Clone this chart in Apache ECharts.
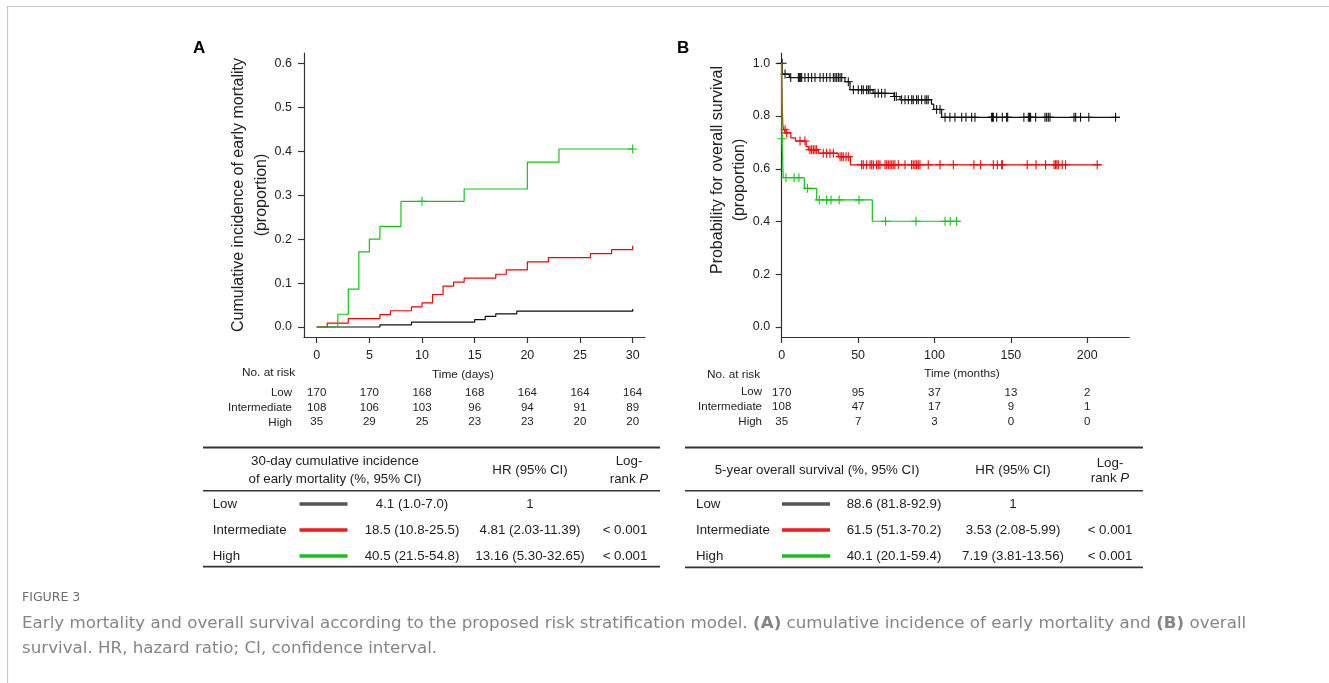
<!DOCTYPE html>
<html>
<head>
<meta charset="utf-8">
<script src="https://cdn.jsdelivr.net/npm/echarts@6/dist/echarts.min.js"></script>
<style>
  html, body { margin: 0; padding: 0; background: #fff; }
  #chart { width: 1329px; height: 683px; }
</style>
</head>
<body>
<div id="chart"></div>
<script>
// ---- panel A: cumulative incidence of early mortality (days) ----
const dayTicks = [0, 5, 10, 15, 20, 25, 30]
const incTicks = [0, 0.1, 0.2, 0.3, 0.4, 0.5, 0.6]
// [day, cumulative incidence] at each step
const lowA = [[0, 0], [6, 0.005], [9, 0.011], [15, 0.017], [16, 0.024], [17, 0.030], [19, 0.036], [30, 0.041]]
const intA = [[0, 0], [1, 0.009], [3, 0.019], [6, 0.028], [7, 0.037], [9, 0.046], [10, 0.055], [11, 0.074],
  [12, 0.093], [13, 0.102], [14, 0.111], [17, 0.120], [18, 0.130], [20, 0.148], [22, 0.158], [26, 0.167],
  [28, 0.176], [30, 0.185]]
const highA = [[0, 0], [2, 0.029], [3, 0.086], [4, 0.171], [5, 0.200], [6, 0.229], [8, 0.286], [14, 0.314],
  [20, 0.375], [23, 0.405], [30, 0.405]]
const highCensorA = [10, 30]
const riskLowA = [170, 170, 168, 168, 164, 164, 164]
const riskIntA = [108, 106, 103, 96, 94, 91, 89]
const riskHighA = [35, 29, 25, 23, 23, 20, 20]

// ---- panel B: overall survival (months) ----
const monthTicks = [0, 50, 100, 150, 200]
const survTicks = [0, 0.2, 0.4, 0.6, 0.8, 1.0]
const lowB = [[0, 1], [0.6, 0.959], [5, 0.946], [41.4, 0.93], [44.7, 0.90], [59.8, 0.886], [73.5, 0.874],
  [77.4, 0.862], [98, 0.845], [99.5, 0.825], [104.7, 0.795], [221.4, 0.795]]
const intB = [[0, 1], [0.3, 0.84], [0.8, 0.76], [1.5, 0.748], [2.5, 0.736], [6, 0.717], [9, 0.705],
  [16, 0.684], [17.5, 0.672], [24, 0.659], [37, 0.646], [45, 0.615], [209.4, 0.615]]
const highB = [[0, 1], [0.2, 0.714], [1, 0.566], [14.8, 0.526], [22.9, 0.482], [59.3, 0.401], [116.7, 0.401]]
const lowCensorB = [0.3, 2.2, 5.9, 10.9, 11.5, 12, 12.5, 13.1, 15.2, 17.4, 19.6, 21.8, 25.1, 27.2, 29.4, 31.6,
  33.8, 34.9, 36, 37.1, 38.2, 39.3, 43.6, 46.9, 50.1, 52.3, 53.4, 55.6, 56.7, 57.8, 61.1, 63.2, 65.4, 67.6,
  73.8, 75, 78.5, 80.7, 82.9, 85.1, 86.1, 88.3, 89.4, 91.6, 93.8, 94.9, 95.9, 101.4, 103.6, 106.9, 110.1,
  113.4, 117.8, 120.6, 124.3, 126.5, 137.4, 138, 138.5, 140.7, 144.4, 147.2, 147.9, 158.5, 161.4, 162.2,
  162.9, 166.2, 172.3, 173.4, 174.5, 175.6, 191.3, 192.4, 195.6, 201, 218.5]
const intCensorB = [2.2, 3.3, 12, 15.2, 18.5, 19.6, 20.7, 21.8, 22.9, 27.2, 29.4, 31.6, 33.8, 38.2, 39.3,
  40.3, 42.1, 43.6, 52.3, 53.4, 55.6, 57.8, 58.9, 60, 62.1, 63.2, 64.3, 67.6, 68.7, 69.8, 70.9, 72, 73, 74.1,
  76.3, 80.7, 85, 86.1, 87.2, 88.3, 89.4, 90.5, 95.9, 103.6, 112.3, 125.8, 130.2, 138.5, 141.1, 144, 144.4,
  160.7, 166.4, 172.7, 178.2, 179.2, 180.1, 181, 183.6, 185.8, 206.5]
const highCensorB = [0.3, 2.8, 8.1, 11.3, 16.8, 24.6, 29.4, 32.3, 37.6, 50.6, 68, 87.9, 106.9, 110.3, 114.5]
const riskLowB = [170, 95, 37, 13, 2]
const riskIntB = [108, 47, 17, 9, 1]
const riskHighB = [35, 7, 3, 0, 0]

// ---- summary tables ----
const groups = ['Low', 'Intermediate', 'High']
const incidenceA = ['4.1 (1.0-7.0)', '18.5 (10.8-25.5)', '40.5 (21.5-54.8)']
const hrA = ['1', '4.81 (2.03-11.39)', '13.16 (5.30-32.65)']
const pA = ['', '< 0.001', '< 0.001']
const survivalB = ['88.6 (81.8-92.9)', '61.5 (51.3-70.2)', '40.1 (20.1-59.4)']
const hrB = ['1', '3.53 (2.08-5.99)', '7.19 (3.81-13.56)']
const pB = ['', '< 0.001', '< 0.001']

const COLORS = { low: '#111111', int: '#ff0000', high: '#10c810' }
const SWATCH = ['#555555', '#f01818', '#18c018']
const FONT = '"Liberation Sans", Arial, sans-serif'
const CAPTION_FONT = '"DejaVu Sans", sans-serif'
const PLUS = 'path://M4.4,0H5.6V4.4H10V5.6H5.6V10H4.4V5.6H0V4.4H4.4Z'

// value of a step curve at time t
function valueAt(curve, t) {
  let v = curve[0][1]
  for (const [x, y] of curve) {
    if (x <= t) v = y
    else break
  }
  return v
}

function stepSeries(data, color, axis) {
  return {
    type: 'line', step: 'end', data, showSymbol: false, silent: true,
    xAxisIndex: axis, yAxisIndex: axis,
    lineStyle: { color, width: 1.2 }
  }
}

function censorSeries(times, curve, color, axis) {
  return {
    type: 'scatter', silent: true, symbol: PLUS, symbolSize: 9,
    xAxisIndex: axis, yAxisIndex: axis,
    data: times.map(t => [t, valueAt(curve, t)]),
    itemStyle: { color, opacity: 1 }
  }
}

const axisLine = { show: true, onZero: false, lineStyle: { color: '#333', width: 1.2 } }
const tickLabel = { color: '#222', fontSize: 12.5, fontFamily: FONT }

function valueAxis(grid, min, max, ticks, fmt, margin) {
  return {
    type: 'value', gridIndex: grid, min, max,
    axisLine,
    axisTick: { show: true, length: 6, customValues: ticks, lineStyle: { color: '#333', width: 1.2 } },
    axisLabel: Object.assign({ customValues: ticks, margin, formatter: fmt }, tickLabel),
    splitLine: { show: false }
  }
}

// extra bottom axis that carries the numbers at risk under each tick
function riskAxis(grid, min, max, ticks, rows, margin) {
  return {
    type: 'value', gridIndex: grid, min, max, position: 'bottom',
    axisLine: { show: false }, axisTick: { show: false }, splitLine: { show: false },
    axisLabel: {
      customValues: ticks, margin, color: '#222', fontSize: 11.5, fontFamily: FONT,
      lineHeight: 14.7, verticalAlign: 'top',
      formatter: v => rows.map(r => r[ticks.indexOf(v)]).join('\n')
    }
  }
}

function txt(x, y, text, extra) {
  return {
    type: 'text', x, y, silent: true,
    style: Object.assign({ text, fill: '#222', fontSize: 13.3, fontFamily: FONT, align: 'left', verticalAlign: 'middle' }, extra)
  }
}
function hline(x1, x2, y, w, color) {
  return { type: 'line', silent: true, shape: { x1, y1: y, x2, y2: y }, style: { stroke: color || '#333', lineWidth: w } }
}

const richRank = {
  n: { fontSize: 13.3, fontFamily: FONT, fill: '#222' },
  i: { fontSize: 13.3, fontFamily: FONT, fontStyle: 'italic', fill: '#222' }
}

const graphic = [
  // frame
  hline(7, 1329, 6.5, 1.2, '#c8c8c8'),
  { type: 'line', silent: true, shape: { x1: 7.5, y1: 6, x2: 7.5, y2: 683 }, style: { stroke: '#c8c8c8', lineWidth: 1.2 } },
  // panel letters
  txt(193, 48, 'A', { fontSize: 17, fontWeight: 'bold', fill: '#000' }),
  txt(677, 48, 'B', { fontSize: 17, fontWeight: 'bold', fill: '#000' }),
  // y titles
  Object.assign(txt(239, 195, 'Cumulative incidence of early mortality', { fontSize: 16, align: 'center' }), { rotation: Math.PI / 2 }),
  Object.assign(txt(261.5, 195, '(proportion)', { fontSize: 16, align: 'center' }), { rotation: Math.PI / 2 }),
  Object.assign(txt(718, 170, 'Probability for overall survival', { fontSize: 16, align: 'center' }), { rotation: Math.PI / 2 }),
  Object.assign(txt(740, 180, '(proportion)', { fontSize: 16, align: 'center' }), { rotation: Math.PI / 2 }),
  // risk tables headings
  txt(242, 373, 'No. at risk', { fontSize: 11.8 }),
  txt(463, 374.5, 'Time (days)', { fontSize: 11.8, align: 'center' }),
  txt(707, 375, 'No. at risk', { fontSize: 11.8 }),
  txt(962, 373.5, 'Time (months)', { fontSize: 11.8, align: 'center' })
]
groups.forEach((g, i) => {
  graphic.push(txt(292, 393 + i * 14.7, g, { fontSize: 11.5, align: 'right' }))
  graphic.push(txt(762, 392.3 + i * 14.7, g, { fontSize: 11.5, align: 'right' }))
})

// summary table A
graphic.push(
  hline(203, 660, 447.5, 1.8),
  txt(335, 461.7, '30-day cumulative incidence', { align: 'center' }),
  txt(335, 479, 'of early mortality (%, 95% CI)', { align: 'center' }),
  txt(530, 470.7, 'HR (95% CI)', { align: 'center' }),
  txt(629, 461.7, 'Log-', { align: 'center' }),
  txt(629, 479, '{n|rank }{i|P}', { align: 'center', rich: richRank }),
  hline(203, 660, 490.7, 1.5),
  hline(203, 660, 566.7, 1.8)
)
// summary table B
graphic.push(
  hline(685, 1143, 447.5, 1.8),
  txt(817, 470.7, '5-year overall survival (%, 95% CI)', { align: 'center' }),
  txt(1013, 470.7, 'HR (95% CI)', { align: 'center' }),
  txt(1110, 463.3, 'Log-', { align: 'center' }),
  txt(1110, 478.3, '{n|rank }{i|P}', { align: 'center', rich: richRank }),
  hline(685, 1143, 490.7, 1.5),
  hline(685, 1143, 567.3, 1.8)
)
groups.forEach((g, i) => {
  const y = 504 + i * 26
  graphic.push(
    txt(212.7, y, g),
    hline(299.5, 347.5, y, 3.5, SWATCH[i]),
    txt(412, y, incidenceA[i], { align: 'center' }),
    txt(530, y, hrA[i], { align: 'center' }),
    txt(625, y, pA[i], { align: 'center' }),
    txt(696, y, g),
    hline(782, 830, y, 3.5, SWATCH[i]),
    txt(894, y, survivalB[i], { align: 'center' }),
    txt(1013, y, hrB[i], { align: 'center' }),
    txt(1110, y, pB[i], { align: 'center' })
  )
})

// caption
graphic.push(
  txt(22, 598, 'FIGURE 3', { fontSize: 12.5, fill: '#6e6e6e', fontFamily: CAPTION_FONT }),
  txt(22, 624, '{t|Early mortality and overall survival according to the proposed risk stratification model. }{b|(A)}{t| cumulative incidence of early mortality and }{b|(B)}{t| overall}', {
    rich: {
      t: { fontSize: 16.7, fontFamily: CAPTION_FONT, fill: '#858585' },
      b: { fontSize: 16.7, fontFamily: CAPTION_FONT, fill: '#858585', fontWeight: 'bold' }
    }
  }),
  txt(22, 649, 'survival. HR, hazard ratio; CI, confidence interval.', { fontSize: 16.7, fill: '#858585', fontFamily: CAPTION_FONT })
)

const chart = echarts.init(document.getElementById('chart'), null, { renderer: 'canvas' })
chart.setOption({
  animation: false,
  backgroundColor: '#fff',
  grid: [
    { left: 304, top: 53, width: 341, height: 284 },
    { left: 781.7, top: 53, width: 347.6, height: 284 }
  ],
  xAxis: [
    valueAxis(0, -1.206, 31.17, dayTicks, v => String(v), 12),
    valueAxis(1, 0, 227.5, monthTicks, v => String(v), 12),
    riskAxis(0, -1.206, 31.17, dayTicks, [riskLowA, riskIntA, riskHighA], 48.5),
    riskAxis(1, 0, 227.5, monthTicks, [riskLowB, riskIntB, riskHighB], 48)
  ],
  yAxis: [
    valueAxis(0, -0.02275, 0.6234, incTicks, v => v.toFixed(1), 12),
    valueAxis(1, -0.0379, 1.039, survTicks, v => v.toFixed(1), 11.5),
    { type: 'value', gridIndex: 0, min: -0.02275, max: 0.6234, show: false },
    { type: 'value', gridIndex: 1, min: -0.0379, max: 1.039, show: false }
  ],
  series: [
    stepSeries(lowA, COLORS.low, 0),
    stepSeries(intA, COLORS.int, 0),
    stepSeries(highA, COLORS.high, 0),
    censorSeries(highCensorA, highA, COLORS.high, 0),
    stepSeries(lowB, COLORS.low, 1),
    stepSeries(intB, COLORS.int, 1),
    stepSeries(highB, COLORS.high, 1),
    censorSeries(lowCensorB, lowB, COLORS.low, 1),
    censorSeries(intCensorB, intB, COLORS.int, 1),
    censorSeries(highCensorB, highB, COLORS.high, 1)
  ],
  graphic
})
</script>
</body>
</html>
